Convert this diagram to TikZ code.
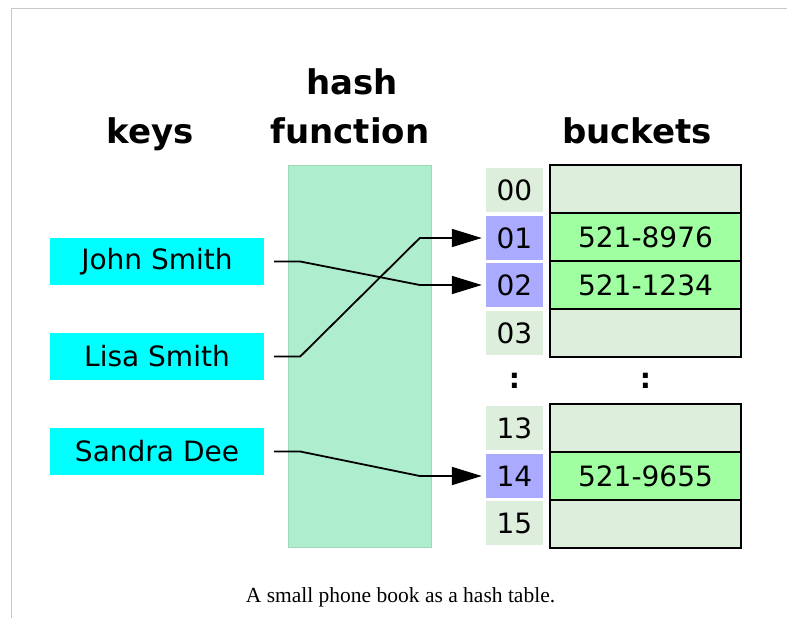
\documentclass[tikz,border=0pt]{standalone}
\usepackage{fontspec}
\setmainfont{DejaVu Sans}
\newfontfamily\capfont{Liberation Serif}
\usetikzlibrary{arrows.meta}
\definecolor{idxbg}{HTML}{DDEEDD}
\definecolor{idxhi}{HTML}{AAAAFF}
\definecolor{bfull}{HTML}{A0FFA0}
\definecolor{hashbg}{HTML}{AEEECE}
\definecolor{hashln}{HTML}{9DD8B8}
\definecolor{keybg}{HTML}{00FFFF}
\definecolor{frame}{HTML}{C8C8C8}
\tikzset{
  title/.style={font=\fontsize{34}{34}\selectfont\bfseries, anchor=base},
  keybox/.style={fill=keybg, minimum width=214pt, minimum height=47pt, inner sep=0pt, font=\fontsize{28}{28}\selectfont},
  idx/.style={fill=idxbg, minimum width=57pt, minimum height=44pt, inner sep=0pt, font=\fontsize{28}{28}\selectfont},
  idxh/.style={idx, fill=idxhi},
  bucket/.style={draw=black, line width=2pt, fill=idxbg, minimum width=191pt, minimum height=48pt, inner sep=0pt, font=\fontsize{28}{28}\selectfont},
  bfilled/.style={bucket, fill=bfull},
  link/.style={line width=1.8pt, -{Triangle[length=30pt,width=18pt]}, shorten >=4pt},
  dotsym/.style={font=\fontsize{28}{28}\selectfont\bfseries}
}
\begin{document}
\begin{tikzpicture}[x=1pt,y=-1pt]
\useasboundingbox (0,0) rectangle (787,618);
\draw[frame, line width=1pt] (11,618) -- (11,8.5) -- (787,8.5);
% titles
\node[title] (tkeys) at (150,143) {keys};
\node[title] (thash) at (352,95) {hash};
\node[title] (tfunc) at (350,143) {function};
\node[title] (tbuck) at (637,143) {buckets};
% hash function column
\node[fill=hashbg, draw=hashln, line width=0.6pt, minimum width=143pt, minimum height=382pt, inner sep=0pt] (hash) at (359.5,356) {};
% keys
\node[keybox] (john) at (157,261.5) {John Smith};
\node[keybox] (lisa) at (157,356.5) {Lisa Smith};
\node[keybox] (sandra) at (157,451.5) {Sandra Dee};
% index cells
\node[idx] (i00) at (514.5,190) {00};
\node[idxh] (i01) at (514.5,238) {01};
\node[idxh] (i02) at (514.5,285) {02};
\node[idx] (i03) at (514.5,333) {03};
\node[idx] (i13) at (514.5,428) {13};
\node[idxh] (i14) at (514.5,476) {14};
\node[idx] (i15) at (514.5,523) {15};
% buckets
\node[bucket] (b00) at (645.5,189) {};
\node[bfilled] (b01) at (645.5,237) {521-8976};
\node[bfilled] (b02) at (645.5,285) {521-1234};
\node[bucket] (b03) at (645.5,333) {};
\node[bucket] (b13) at (645.5,428) {};
\node[bfilled] (b14) at (645.5,476) {521-9655};
\node[bucket] (b15) at (645.5,524) {};
% dots
\node[dotsym] (d1) at (514.5,381) {:};
\node[dotsym] (d2) at (645.5,381) {:};
% connectors
\draw[link] ([xshift=10pt]john.east) -- ++(26,0) -- ([xshift=-66pt]i02.west) -- (i02.west);
\draw[link] ([xshift=10pt]lisa.east) -- ++(26,0) -- ([xshift=-66pt]i01.west) -- (i01.west);
\draw[link] ([xshift=10pt]sandra.east) -- ++(26,0) -- ([xshift=-66pt]i14.west) -- (i14.west);
% caption
\node[font=\capfont\fontsize{21.5}{21.5}\selectfont, anchor=base] (cap) at (400.5,602) {A small phone book as a hash table.};
\end{tikzpicture}
\end{document}
